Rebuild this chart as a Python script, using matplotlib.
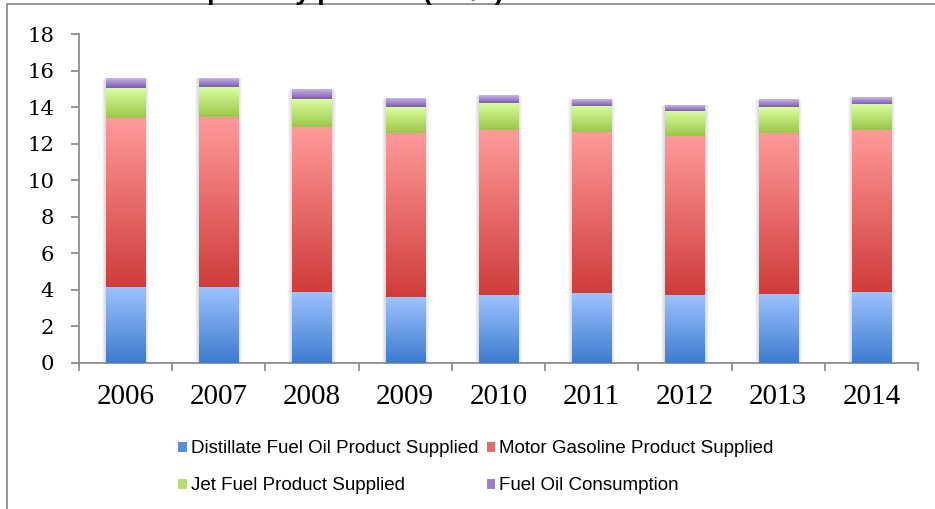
import numpy as np
import matplotlib
matplotlib.use("Agg")
import matplotlib.pyplot as plt
from matplotlib.colors import LinearSegmentedColormap
from matplotlib.patches import Patch, Rectangle

years = ["2006", "2007", "2008", "2009", "2010", "2011", "2012", "2013", "2014"]
distillate = [4.15, 4.15, 3.87, 3.60, 3.71, 3.82, 3.71, 3.76, 3.87]
gasoline = [9.25, 9.31, 9.04, 8.98, 9.03, 8.81, 8.71, 8.82, 8.87]
jet_fuel = [1.64, 1.64, 1.53, 1.42, 1.48, 1.43, 1.37, 1.42, 1.43]
fuel_oil = [0.50, 0.49, 0.50, 0.44, 0.39, 0.38, 0.32, 0.39, 0.38]
labels = ["Distillate Fuel Oil Product Supplied", "Motor Gasoline Product Supplied",
          "Jet Fuel Product Supplied", "Fuel Oil Consumption"]

# (bottom colour, top colour) of each gradient
grads = [("#3d7bcd", "#9cc2ff"), ("#cf3c3a", "#ff9b9a"),
         ("#9bc649", "#dcffa0"), ("#7b5cab", "#c8b3ea")]
legend_cols = ["#5a8fdc", "#e56a68", "#b7dd72", "#9a80c8"]

grey = "#8c8c8c"
fig = plt.figure(figsize=(9.35, 5.09), dpi=100)
ax = fig.add_axes([79 / 935, 1 - 363 / 509, 839 / 935, 329 / 509])

x = np.arange(len(years))
width = 0.42
series = [distillate, gasoline, jet_fuel, fuel_oil]
bottom = np.zeros(len(years))
grad = np.linspace(0, 1, 256).reshape(-1, 1)

# soft shadow behind each stacked bar
totals = np.sum(series, axis=0)
for xi, tot in zip(x, totals):
    for k in range(1, 5):
        dx, dy = 0.0107 * k, 0.055 * k
        ax.add_patch(Rectangle((xi - width / 2 - dx, -dy), width + 2 * dx, tot + dy,
                               facecolor="black", alpha=0.035, edgecolor="none", zorder=1))

for vals, (c0, c1) in zip(series, grads):
    cmap = LinearSegmentedColormap.from_list("g", [c0, c1])
    bars = ax.bar(x, vals, width, bottom=bottom, color="none", edgecolor="none", zorder=2)
    for rect in bars:
        x0, y0 = rect.get_x(), rect.get_y()
        ax.imshow(grad, extent=[x0, x0 + rect.get_width(), y0, y0 + rect.get_height()],
                  origin="lower", aspect="auto", cmap=cmap, zorder=3)
    bottom += np.array(vals)

ax.set_xlim(-0.5, len(years) - 0.5)
ax.set_ylim(0, 18)
ax.set_yticks(range(0, 19, 2))
ax.set_xticks(x)
ax.set_xticklabels(years)
ax.set_xticks(np.arange(-0.5, len(years)), minor=True)

for s in ["top", "right"]:
    ax.spines[s].set_visible(False)
for s in ["left", "bottom"]:
    ax.spines[s].set_color(grey)
    ax.spines[s].set_linewidth(1.3)

ax.tick_params(axis="y", direction="out", length=6, width=1.3, color=grey, pad=12,
               labelsize=15.3, labelfontfamily="DejaVu Serif")
ax.tick_params(axis="x", which="major", length=0, pad=15,
               labelsize=21, labelfontfamily="Liberation Serif")
ax.tick_params(axis="x", which="minor", direction="out", length=6, width=1.3, color=grey)

handles = [Patch(facecolor=c, edgecolor="none") for c in legend_cols]
order = [0, 2, 1, 3]
fig.legend([handles[i] for i in order], [labels[i] for i in order], ncol=2,
           loc="upper left", bbox_to_anchor=(169 / 935, 1 - 431 / 509), frameon=False,
           prop={"family": "Liberation Sans", "size": 13.5}, borderpad=0,
           handlelength=0.45, handleheight=0.45, handletextpad=0.2,
           columnspacing=0.45, labelspacing=1.07)

# chart border (cropped at right and bottom) and cut-off title
fig.add_artist(Rectangle((7 / 935, -0.1), 2, 1 - 4 / 509 + 0.1, fill=False,
                         edgecolor=grey, linewidth=1.3, transform=fig.transFigure))
fig.text(504 / 935, 1.0, "U.S. Oil Consumption by product (mb/d)", ha="right", va="baseline",
         fontsize=19, fontweight="bold", family="Liberation Sans")

fig.savefig("out.png", dpi=100)
